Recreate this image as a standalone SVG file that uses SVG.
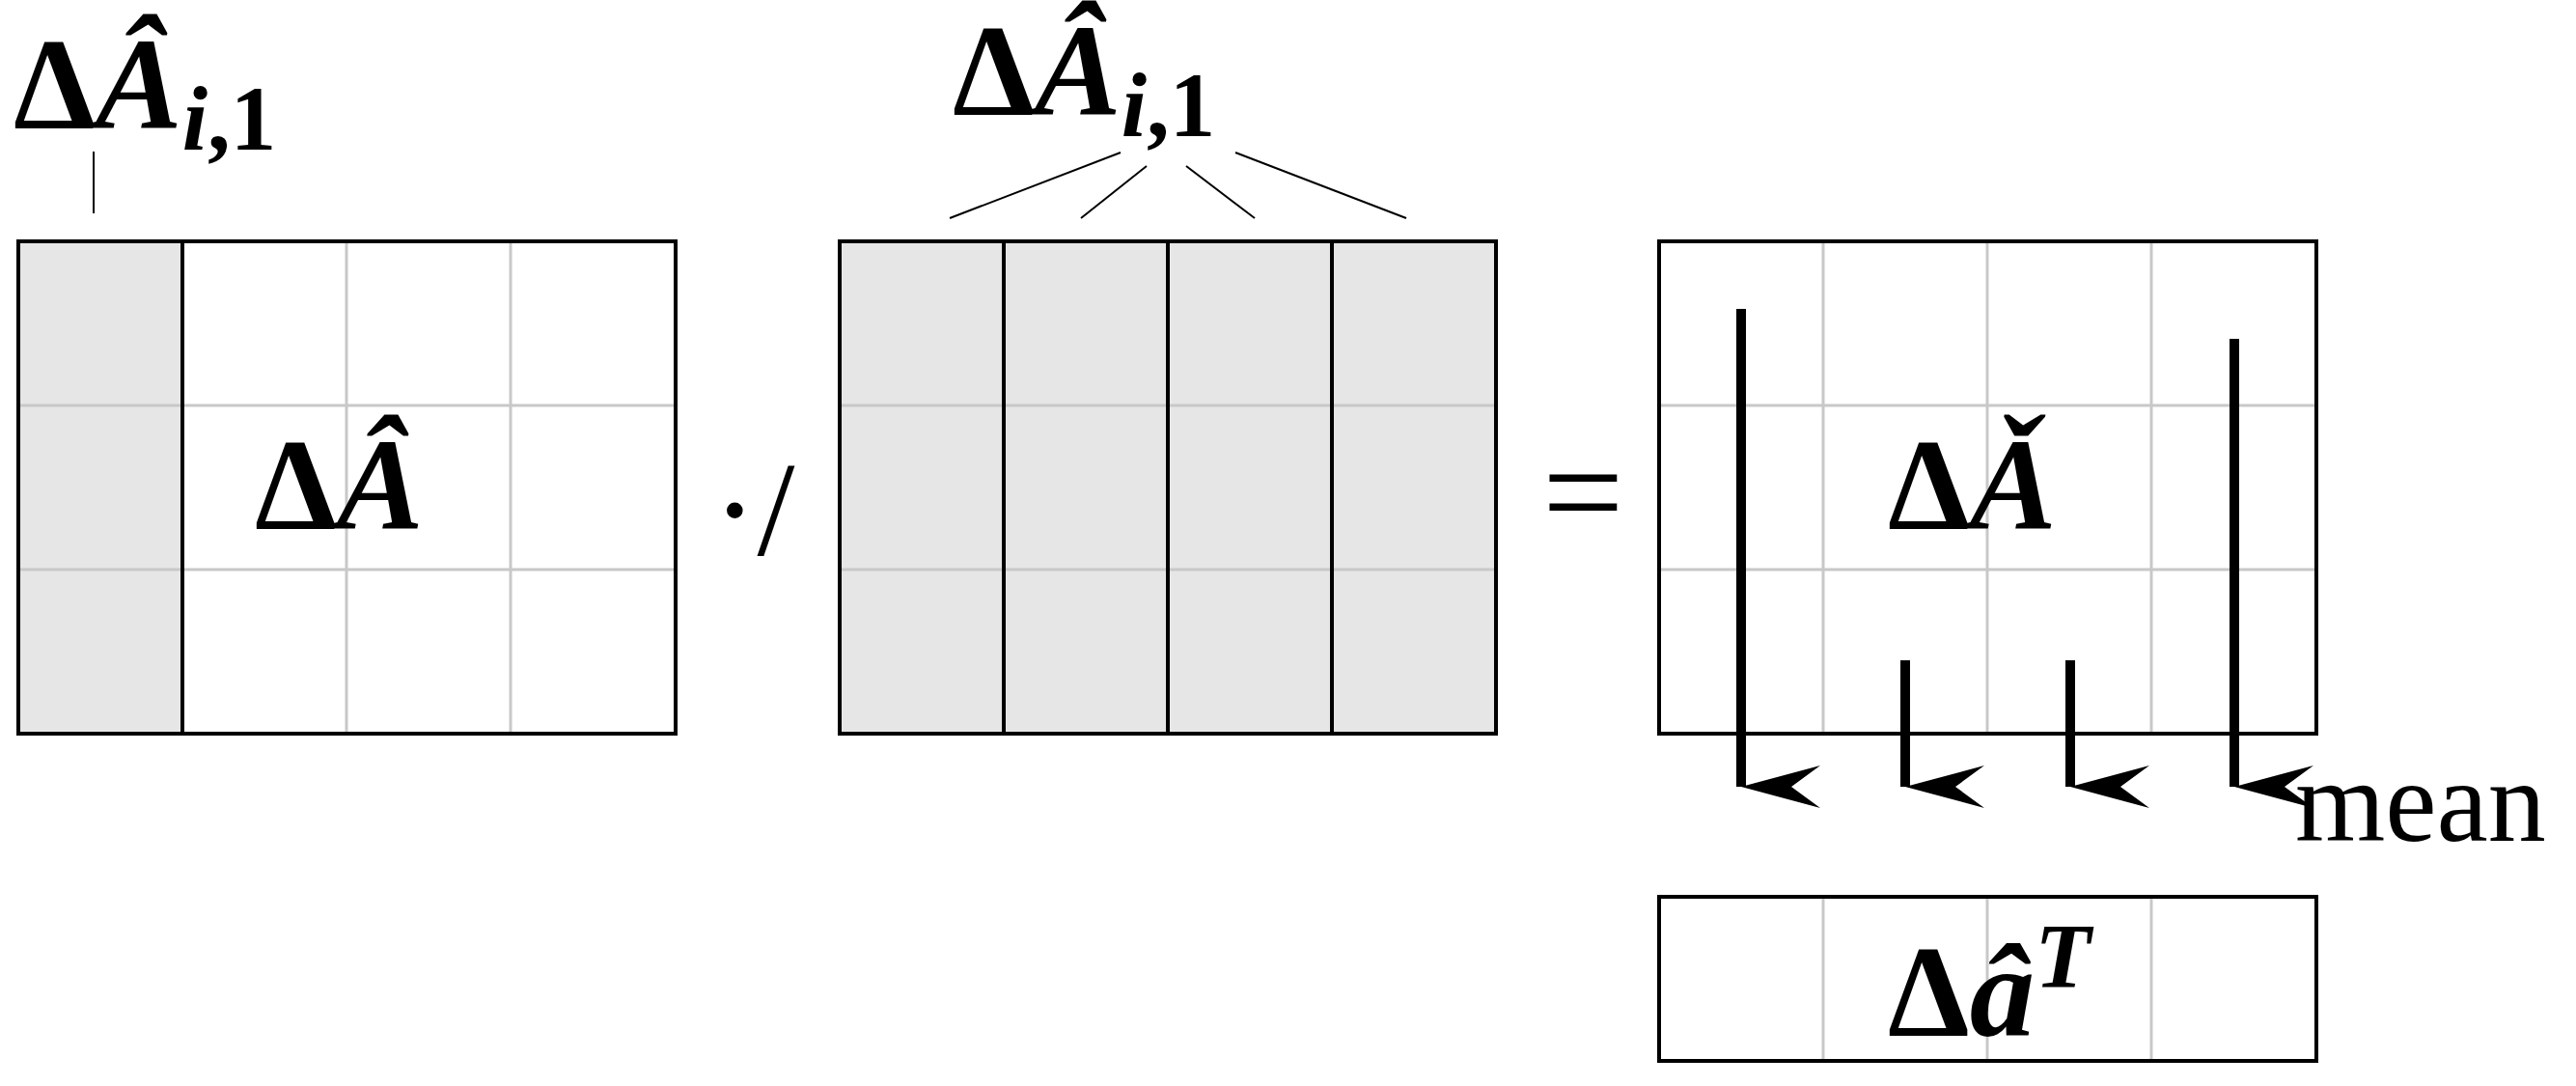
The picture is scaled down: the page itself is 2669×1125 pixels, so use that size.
<svg xmlns="http://www.w3.org/2000/svg" width="2669" height="1125" viewBox="0 0 2669 1125">
<style>
.b{fill:none;stroke:#000;stroke-width:4}
.g{stroke:#c8c8c8;stroke-width:3}
.k{stroke:#000;stroke-width:4}
.t{stroke:#000;stroke-width:2}
.f{fill:#e6e6e6}
.m{font-family:"Liberation Serif",serif;fill:#000}
.d{font-weight:bold;font-style:normal}
.i{font-weight:bold;font-style:italic}
.a{stroke:#000;stroke-width:10;fill:none}
</style>
<defs>
<marker id="ah" markerUnits="userSpaceOnUse" markerWidth="50" markerHeight="90" refX="25" refY="82" orient="auto-start-reverse" viewBox="0 0 50 90">
<path d="M3,0 L25,82 L47,0 L25,30 Z" fill="#000"/>
</marker>
</defs>
<rect width="2669" height="1125" fill="#fff"/>
<g id="left">
<rect class="f" x="19" y="250" width="170" height="510"/>
<line class="g" x1="19" y1="420" x2="700" y2="420"/><line class="g" x1="19" y1="590" x2="700" y2="590"/>
<line class="g" x1="359" y1="250" x2="359" y2="760"/><line class="g" x1="529" y1="250" x2="529" y2="760"/>
<line class="k" x1="189" y1="250" x2="189" y2="760"/>
<rect class="b" x="19" y="250" width="681" height="510"/>
<text class="m" x="264" y="548" font-size="135"><tspan class="d">Δ</tspan><tspan class="i">Â</tspan></text>
</g>
<g id="left-label">
<text class="m" x="14" y="133" font-size="135"><tspan class="d">Δ</tspan><tspan class="i">Â</tspan><tspan class="i" font-size="95" dy="22">i</tspan><tspan class="d" font-size="95">,1</tspan></text>
</g>
<g id="op1"><text class="m" x="738" y="575" font-size="140">·/</text></g>
<g id="middle">
<rect class="f" x="870" y="250" width="680" height="510"/>
<line class="g" x1="870" y1="420" x2="1550" y2="420"/><line class="g" x1="870" y1="590" x2="1550" y2="590"/>
<line class="k" x1="1040" y1="250" x2="1040" y2="760"/><line class="k" x1="1210" y1="250" x2="1210" y2="760"/><line class="k" x1="1380" y1="250" x2="1380" y2="760"/>
<rect class="b" x="870" y="250" width="680" height="510"/>
</g>
<g id="middle-label">
<text class="m" x="987" y="119" font-size="135"><tspan class="d">Δ</tspan><tspan class="i">Â</tspan><tspan class="i" font-size="95" dy="22">i</tspan><tspan class="d" font-size="95">,1</tspan></text>
</g>
<g id="op2"><text class="m" x="1598" y="560" font-size="150">=</text></g>
<g id="right">
<line class="g" x1="1719" y1="420" x2="2400" y2="420"/><line class="g" x1="1719" y1="590" x2="2400" y2="590"/>
<line class="g" x1="1889" y1="250" x2="1889" y2="760"/><line class="g" x1="2059" y1="250" x2="2059" y2="760"/><line class="g" x1="2229" y1="250" x2="2229" y2="760"/>
<rect class="b" x="1719" y="250" width="681" height="510"/>
<text class="m" x="1956" y="548" font-size="135"><tspan class="d">Δ</tspan><tspan class="i">Ǎ</tspan></text>
</g>
<g id="bottom">
<line class="g" x1="1889" y1="929" x2="1889" y2="1099"/><line class="g" x1="2059" y1="929" x2="2059" y2="1099"/><line class="g" x1="2229" y1="929" x2="2229" y2="1099"/>
<rect class="b" x="1719" y="929" width="681" height="170"/>
<text class="m" x="1956" y="1073" font-size="135"><tspan class="d">Δ</tspan><tspan class="i">â</tspan><tspan class="i" font-size="95" dy="-50">T</tspan></text>
</g>
<g id="mean-label"><text class="m" x="2378" y="871" font-size="120">mean</text></g>
<g id="connectors">
<line class="t" x1="97" y1="157" x2="97" y2="221"/>
<line class="t" x1="984" y1="226" x2="1161" y2="158"/>
<line class="t" x1="1120" y1="226" x2="1188" y2="172"/>
<line class="t" x1="1229" y1="172" x2="1300" y2="226"/>
<line class="t" x1="1280" y1="158" x2="1457" y2="226"/>
<line class="a" x1="1804" y1="320" x2="1804" y2="815" marker-end="url(#ah)"/>
<line class="a" x1="1974" y1="684" x2="1974" y2="815" marker-end="url(#ah)"/>
<line class="a" x1="2145" y1="684" x2="2145" y2="815" marker-end="url(#ah)"/>
<line class="a" x1="2315" y1="351" x2="2315" y2="815" marker-end="url(#ah)"/>
</g>
</svg>
